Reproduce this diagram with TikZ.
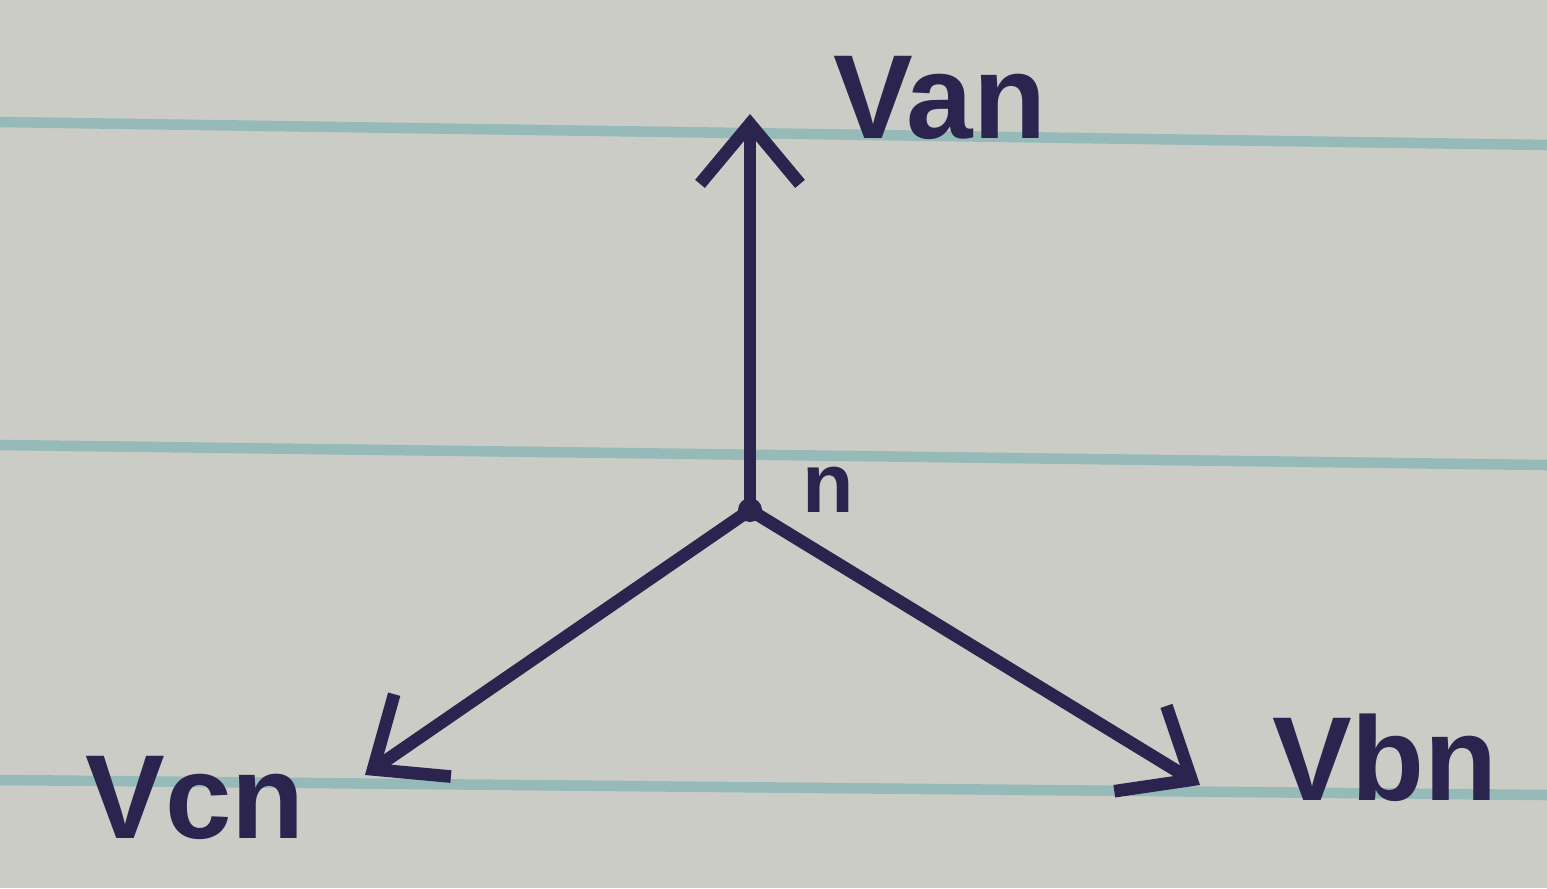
\documentclass[tikz,border=0pt]{standalone}
\usepackage{fontspec}
\setmainfont{Liberation Sans}
\usetikzlibrary{arrows.meta}
\definecolor{paper}{RGB}{204,204,198}
\definecolor{rule}{RGB}{150,186,184}
\definecolor{ink}{RGB}{42,36,78}
\tikzset{
  phasor/.style={draw=ink, line width=3.6pt, line cap=round,
    -{Straight Barb[length=6mm,width=10mm,line width=3.6pt]}},
  lbl/.style={text=ink, font=\fontsize{34}{34}\selectfont\bfseries, inner sep=0pt},
  ruled/.style={draw=rule, line width=3pt}
}
\begin{document}
\begin{tikzpicture}
\fill[paper] (0,0) rectangle (15.47,8.88);
\useasboundingbox (0,0) rectangle (15.47,8.88);
% ruled lines
\draw[ruled] (0,7.66) -- (15.47,7.43);
\draw[ruled] (0,4.43) -- (15.47,4.23);
\draw[ruled] (0,1.08) -- (15.47,0.93);
% nodes
\coordinate (n) at (7.5,3.78);
\coordinate (a) at (7.5,7.74);
\coordinate (b) at (12.0,1.03);
\coordinate (c) at (3.65,1.13);
\fill[ink] (n) circle (0.12);
\draw[phasor] (n) -- (a);
\draw[phasor] (n) -- (b);
\draw[phasor] (n) -- (c);
\node[lbl] (la) at (9.4,7.9) {Van};
\node[lbl] (lb) at (13.85,1.3) {Vbn};
\node[lbl] (lc) at (1.95,0.9) {Vcn};
\node[lbl, font=\fontsize{24}{24}\selectfont\bfseries] (ln) at (8.28,3.98) {n};
\end{tikzpicture}
\end{document}
